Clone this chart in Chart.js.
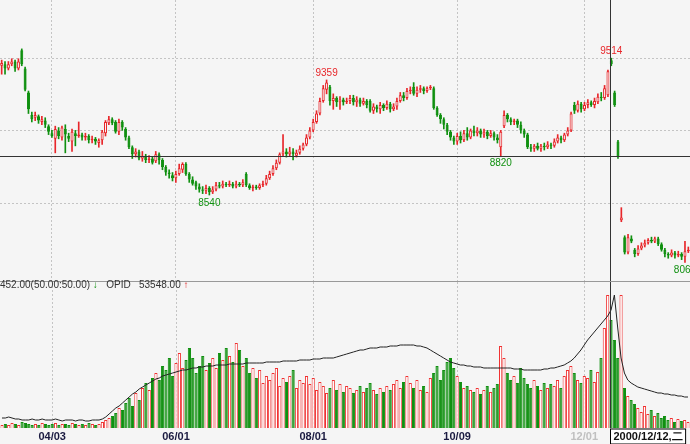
<!DOCTYPE html>
<html><head><meta charset="utf-8">
<script src="https://cdn.jsdelivr.net/npm/chart.js@4/dist/chart.umd.min.js"></script>
<style>
html,body{margin:0;padding:0;background:#f5f5f5;overflow:hidden}
#wrap{position:relative;width:690px;height:444px;background:#f5f5f5}
#c1{position:absolute;left:0;top:0}
#c2{position:absolute;left:0;top:282px}
#sep{position:absolute;left:0;top:281px;width:690px;height:1px;background:#999}
#leg{position:absolute;left:0;top:279px;font:10px "Liberation Sans",Arial,sans-serif;color:#333;white-space:pre}
</style></head><body>
<div id="wrap">
<canvas id="c1" width="690" height="281"></canvas>
<div id="sep"></div>
<canvas id="c2" width="690" height="162"></canvas>
<div id="leg">452.00(50.00:50.00) <span style="color:#109010">↓</span>   OPID   53548.00 <span style="color:#e02020">↑</span></div>
</div>
<script>
const opens=[9460,9470,9440,9470,9490,9440,9570,9440,9270,9110,9090,9100,9060,9070,9030,8980,8940,9000,8950,9010,8960,8920,8980,8960,8970,8950,8960,8930,8940,8910,
8930,8980,9050,9080,9060,8990,9060,9010,8950,8880,8830,8850,8800,8820,8790,8800,8780,8830,8790,8740,8700,8680,8660,8690,8720,8760,8690,8650,8630,8600,
8580,8570,8590,8560,8580,8610,8600,8620,8610,8620,8600,8620,8610,8690,8610,8590,8600,8590,8610,8620,8660,8690,8730,8770,8830,8850,8830,8850,8820,8840,
8870,8900,8950,9000,9060,9120,9210,9290,9310,9210,9230,9200,9220,9200,9210,9230,9200,9220,9190,9210,9210,9140,9170,9150,9180,9160,9190,9150,9170,9210,
9250,9230,9280,9310,9260,9290,9300,9280,9300,9300,9160,9110,9080,9040,8990,8950,8920,8960,8930,8980,8950,9000,8980,9000,8970,8990,8960,8980,8950,8880,
9030,9110,9080,9060,9070,9040,9000,8970,8880,8870,8890,8870,8890,8880,8900,8890,8920,8950,8930,8970,9000,9180,9140,9190,9150,9180,9200,9180,9200,9240,
9230,9250,9500,9270,8920,8360,8240,8130,8230,8150,8120,8160,8180,8200,8220,8210,8230,8190,8150,8120,8110,8130,8110,8120,8100,8140];
const closes=[9480,9440,9470,9490,9440,9490,9470,9290,9150,9080,9110,9070,9080,9040,8990,8960,9010,8960,9020,8970,8940,8990,8960,8970,8950,8960,8930,8940,8920,8930,
8990,9060,9080,9050,8990,9060,9020,8950,8880,8830,8850,8800,8820,8790,8800,8770,8830,8790,8740,8700,8690,8660,8690,8730,8760,8690,8650,8620,8600,8580,
8570,8590,8560,8580,8610,8600,8620,8610,8620,8600,8620,8610,8630,8610,8590,8600,8590,8610,8620,8660,8690,8730,8770,8830,8850,8830,8850,8830,8840,8870,
8900,8950,9000,9060,9120,9210,9300,9340,9210,9230,9200,9220,9200,9210,9230,9200,9220,9190,9210,9180,9140,9170,9150,9180,9160,9190,9150,9170,9210,9250,
9230,9280,9290,9260,9290,9300,9280,9300,9310,9160,9110,9080,9040,8990,8950,8920,8960,8930,8980,8950,9000,8980,9000,8970,8990,8960,8980,8950,8930,8990,
9110,9080,9060,9070,9040,9000,8970,8880,8870,8890,8870,8890,8880,8900,8890,8920,8950,8930,8970,9000,9120,9140,9190,9150,9180,9200,9180,9210,9240,9230,
9300,9420,9470,9180,8810,8380,8130,8240,8210,8120,8160,8180,8200,8220,8210,8230,8190,8150,8120,8110,8130,8110,8120,8100,8140,8150];
const highs=[9500,9490,9490,9510,9500,9510,9580,9450,9280,9130,9130,9110,9100,9090,9040,9000,9030,9020,9030,9040,8980,9010,9000,9060,8980,8980,8970,8960,8950,8940,
9000,9070,9100,9090,9070,9080,9070,9020,8960,8890,8870,8860,8850,8830,8820,8810,8850,8840,8800,8750,8720,8700,8710,8760,8770,8770,8700,8670,8640,8620,
8600,8610,8600,8600,8630,8630,8640,8630,8640,8630,8640,8630,8650,8700,8620,8610,8610,8620,8640,8680,8710,8750,8790,8840,8970,8870,8880,8870,8860,8890,
8910,8970,9020,9080,9140,9230,9320,9359,9320,9260,9240,9240,9230,9230,9250,9250,9240,9230,9230,9220,9220,9190,9180,9200,9190,9210,9200,9190,9230,9270,
9270,9300,9310,9340,9310,9320,9310,9310,9320,9310,9170,9120,9090,9050,9000,8960,8980,8990,9000,9020,9010,9030,9020,9010,9010,9000,9000,8990,8970,9000,
9140,9120,9090,9080,9080,9060,9010,8980,8900,8900,8910,8900,8910,8920,8910,8940,8970,8960,8980,9020,9130,9200,9210,9200,9200,9220,9210,9230,9260,9270,
9320,9430,9514,9280,8930,8450,8250,8260,8250,8160,8180,8200,8220,8230,8240,8240,8240,8200,8160,8130,8150,8140,8140,8130,8210,8170];
const lows=[9400,9400,9430,9460,9420,9430,9460,9280,9120,9060,9070,9050,9040,9020,8970,8950,8840,8940,8930,8840,8920,8850,8890,8950,8930,8930,8910,8910,8900,8880,
8900,8960,9040,9040,8980,8970,9000,8930,8870,8800,8810,8790,8780,8770,8770,8760,8770,8760,8720,8680,8660,8640,8630,8680,8700,8680,8630,8610,8580,8560,
8550,8550,8540,8550,8570,8590,8590,8600,8600,8590,8590,8600,8600,8600,8580,8570,8580,8580,8600,8610,8650,8680,8720,8760,8820,8810,8820,8790,8810,8830,
8860,8890,8940,8990,9050,9110,9200,9260,9180,9150,9170,9150,9180,9190,9190,9180,9170,9170,9180,9160,9130,9120,9130,9120,9140,9150,9130,9140,9150,9200,
9210,9220,9260,9250,9240,9270,9260,9270,9290,9150,9100,9050,9010,8970,8930,8900,8900,8910,8920,8930,8940,8960,8960,8950,8950,8940,8950,8930,8910,8820,
9020,9060,9040,9040,9020,8980,8950,8870,8850,8850,8860,8850,8860,8870,8870,8880,8910,8910,8920,8960,8990,9120,9130,9130,9140,9160,9170,9160,9190,9210,
9220,9240,9460,9170,8800,8350,8120,8120,8200,8100,8110,8150,8170,8190,8200,8200,8180,8140,8100,8090,8100,8090,8100,8080,8060,8130];
const volume=[3,4,3,5,4,3,6,5,4,3,4,3,5,4,3,4,5,3,4,4,3,5,4,3,4,3,5,4,3,4,
6,8,10,12,15,20,18,25,30,22,35,28,40,45,38,50,
55,48,62,58,70,52,65,75,60,68,80,70,55,62,72,
58,65,70,60,75,68,80,72,66,85,78,62,70,55,60,
50,58,45,52,48,55,60,42,50,46,52,58,40,48,45,
52,44,50,38,46,42,35,40,48,38,44,36,42,40,35,
38,42,36,40,45,38,34,40,36,42,38,44,48,40,46,
52,45,40,48,38,42,36,50,55,62,48,58,66,70,60,
52,46,40,42,38,36,40,34,38,42,36,40,44,82,70,
55,48,52,45,60,50,44,40,48,42,38,45,40,44,42,
48,40,52,58,62,55,48,45,52,50,58,46,56,70,100,
133,108,88,70,133,
40,32,28,24,20,16,22,14,18,12,15,10,12,8,10,6,9,7,8,6];
const opid=[10,10,11,10,9,9,8,8,8,9,8,8,9,8,8,8,9,8,7,8,8,8,7,8,8,7,7,8,8,8,
9,11,14,17,20,22,25,28,31,34,36,39,41,43,45,47,
49,50,52,53,54,55,56,57,58,58,59,60,60,61,61,
62,62,62,63,63,63,63,64,64,64,64,64,65,65,65,
65,65,65,66,66,66,66,66,67,67,67,67,67,68,68,
68,68,69,69,69,70,70,70,70,71,72,73,74,75,76,
77,78,78,79,80,80,80,81,81,81,82,82,82,83,83,
83,83,83,82,82,81,80,78,76,74,72,70,68,66,65,
64,63,63,62,62,61,61,61,60,60,60,60,60,60,60,
60,60,59,59,59,58,58,58,58,58,58,59,59,60,60,
61,62,63,65,67,70,74,78,83,88,92,96,100,104,108,
112,118,133,100,70,
55,48,45,43,41,40,39,38,37,36,35,35,34,34,33,33,32,32,31,31];
const tickLabels=['04/03','06/01','08/01','10/09','12/01'];
const tickIdx=[15,52,93,136,174];
const priceGrid=[8483,9000,9515];
const marks=[{i:97,v:9359,t:'9359',up:true},{i:62,v:8540,t:'8540',up:false},{i:149,v:8820,t:'8820',up:false},{i:182,v:9514,t:'9514',up:true},{i:204,v:8060,t:'8060',up:false}];
const cross={i:182,v:8818,date:'2000/12/12,二'};

const RED='#e8262a',GREEN='#109010',BG='#f5f5f5';
const cats=opens.map((_,i)=>i);
const isUp=i=>closes[i]>=opens[i];
const vgrid=ctx=>tickIdx.includes(ctx.index)?'#c4c4c4':'rgba(0,0,0,0)';

const topPlugin={id:'topp',afterDatasetsDraw(ch){
  const c=ch.ctx,x=ch.scales.x,y=ch.scales.y;
  c.save();c.font='10px "Liberation Sans",Arial,sans-serif';c.textAlign='center';
  marks.forEach(m=>{c.fillStyle=m.up?RED:GREEN;const px=x.getPixelForValue(m.i),py=y.getPixelForValue(m.v);
    c.textBaseline=m.up?'bottom':'top';c.fillText(m.t,px,m.up?py-2:py+3);});
  c.strokeStyle='#333';c.lineWidth=1;
  const cy=Math.round(y.getPixelForValue(cross.v))+0.5,cx=Math.round(x.getPixelForValue(cross.i))-0.5;
  c.beginPath();c.moveTo(0,cy);c.lineTo(ch.width,cy);c.moveTo(cx,0);c.lineTo(cx,ch.height);c.stroke();
  c.restore();}};
const botPlugin={id:'botp',afterDraw(ch){
  const c=ch.ctx,x=ch.scales.x;c.save();
  const cx=Math.round(x.getPixelForValue(cross.i))-0.5;
  c.strokeStyle='#333';c.lineWidth=1;c.beginPath();c.moveTo(cx,0);c.lineTo(cx,ch.chartArea.bottom);c.stroke();
  c.font='bold 11px "Liberation Sans",Arial,sans-serif';const w=c.measureText(cross.date).width+6;
  const top=ch.chartArea.bottom+1;c.fillStyle='#fff';c.fillRect(cx,top,w,15);c.strokeStyle='#000';c.strokeRect(cx,top,w,15);
  c.fillStyle='#111';c.textBaseline='middle';c.textAlign='left';c.fillText(cross.date,cx+3,top+8);
  c.restore();}};

new Chart(document.getElementById('c1'),{type:'bar',
 data:{labels:cats,datasets:[
  {data:cats.map(i=>[lows[i],highs[i]]),grouped:false,barThickness:1,backgroundColor:cats.map(i=>isUp(i)?RED:GREEN),order:2},
  {data:cats.map(i=>[opens[i],closes[i]===opens[i]?closes[i]+3:closes[i]]),grouped:false,barPercentage:0.9,categoryPercentage:1,
   backgroundColor:cats.map(i=>isUp(i)?BG:GREEN),borderColor:cats.map(i=>isUp(i)?RED:GREEN),borderWidth:1,borderSkipped:false,order:1}]},
 options:{responsive:false,animation:false,events:[],layout:{padding:0},
  plugins:{legend:{display:false},tooltip:{enabled:false}},
  scales:{x:{ticks:{display:false,autoSkip:false},grid:{color:vgrid,drawTicks:false,offset:false},border:{display:false,dash:[2,2]},afterFit(s){s.height=0}},
   y:{min:7928,max:9928,afterBuildTicks(s){s.ticks=priceGrid.map(v=>({value:v}))},ticks:{display:false},grid:{color:'#c4c4c4',drawTicks:false},border:{display:false,dash:[2,2]},afterFit(s){s.width=0}}}},
 plugins:[topPlugin]});

new Chart(document.getElementById('c2'),{type:'bar',
 data:{labels:cats,datasets:[
  {type:'line',data:opid,borderColor:'#222',borderWidth:1,pointRadius:0,tension:0,order:0},
  {data:volume,barPercentage:0.95,categoryPercentage:1,backgroundColor:cats.map(i=>isUp(i)?'#fff':GREEN),borderColor:cats.map(i=>isUp(i)?'#f03030':GREEN),borderWidth:1,borderSkipped:'bottom',order:1}]},
 options:{responsive:false,animation:false,events:[],layout:{padding:0},
  plugins:{legend:{display:false},tooltip:{enabled:false}},
  scales:{x:{ticks:{autoSkip:false,maxRotation:0,padding:2,font:{family:'"Liberation Sans", Arial',size:11,weight:'bold'},
     color:ctx=>ctx.index===174?'#c0c0c0':'#1a1a40',
     callback:(v,i)=>{const k=tickIdx.indexOf(i);return k>=0?tickLabels[k]:''}},
    grid:{color:vgrid,drawTicks:false,offset:false},border:{display:false,dash:[2,2]},afterFit(s){s.height=16}},
   y:{min:0,max:146,ticks:{display:false},grid:{display:false},border:{display:false},afterFit(s){s.width=0}}}},
 plugins:[botPlugin]});
</script></body></html>
